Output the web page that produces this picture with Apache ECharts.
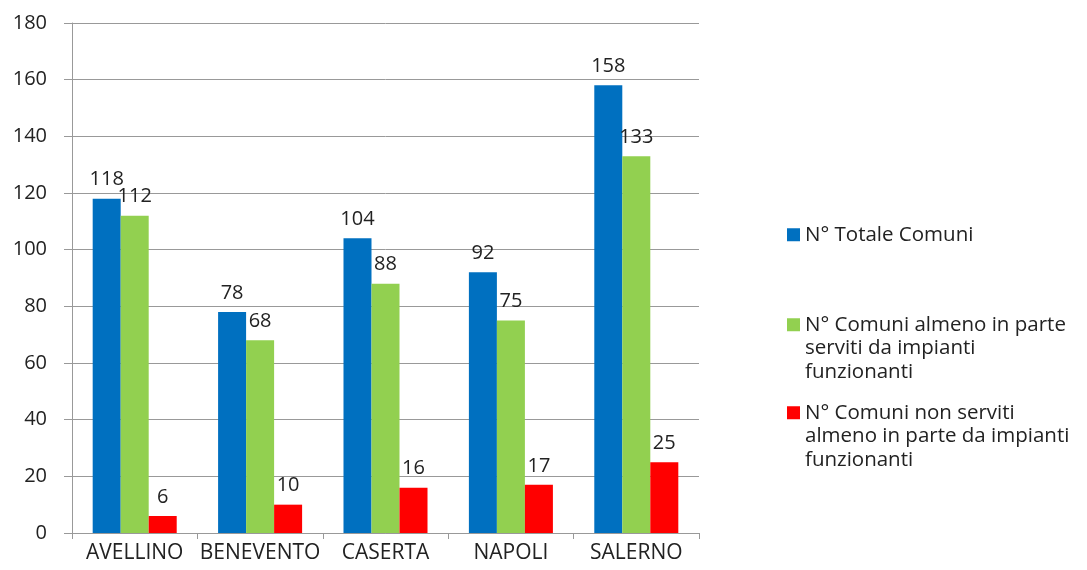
<!DOCTYPE html>
<html>
<head>
<meta charset="utf-8">
<script src="https://cdn.jsdelivr.net/npm/echarts@6/dist/echarts.min.js"></script>
<style>
  html, body { margin: 0; padding: 0; background: #fff; }
  #chart { width: 1087px; height: 570px; }
</style>
</head>
<body>
<div id="chart"></div>
<script>
var province = ['AVELLINO', 'BENEVENTO', 'CASERTA', 'NAPOLI', 'SALERNO'];
var totaleComuni = [118, 78, 104, 92, 158];
var comuniServiti = [112, 68, 88, 75, 133];
var comuniNonServiti = [6, 10, 16, 17, 25];

var nomeTotale = 'N° Totale Comuni';
var nomeServiti = 'N° Comuni almeno in parte\nserviti da impianti\nfunzionanti';
var nomeNonServiti = 'N° Comuni non serviti\nalmeno in parte da impianti\nfunzionanti';

var fontFam = '"Open Sans", "DejaVu Sans", sans-serif';
var labelStyle = {
    show: true,
    position: 'top',
    distance: 9,
    color: '#222',
    fontSize: 20,
    fontFamily: fontFam
};

// multi-line legend: two blank lines on top so the icon sits beside the first line
function legendBox(name, top, multi) {
    return {
        data: [name],
        left: 787,
        top: top,
        padding: 0,
        itemWidth: 13,
        itemHeight: 13,
        itemGap: 0,
        icon: 'rect',
        orient: 'vertical',
        selectedMode: false,
        formatter: function (n) {
            return multi ? '\u00a0\n\u00a0\n' + n : n;
        },
        textStyle: {
            fontSize: 20.5,
            fontFamily: fontFam,
            color: '#222',
            lineHeight: 23.5
        }
    };
}

var chart = echarts.init(document.getElementById('chart'));
chart.setOption({
    animation: false,
    backgroundColor: '#fff',
    grid: { left: 72, right: 388, top: 23, bottom: 37 },
    legend: [
        legendBox(nomeTotale, 223, false),
        legendBox(nomeServiti, 266, true),
        legendBox(nomeNonServiti, 354, true)
    ],
    xAxis: {
        type: 'category',
        data: province,
        axisLine: { lineStyle: { color: '#999', width: 1 } },
        axisTick: { show: true, length: 6, lineStyle: { color: '#999' } },
        axisLabel: { interval: 0, color: '#222', fontSize: 21, fontFamily: fontFam, margin: 10 }
    },
    yAxis: {
        type: 'value',
        min: 0,
        max: 180,
        interval: 20,
        axisLine: { show: true, lineStyle: { color: '#999', width: 1 } },
        axisTick: { show: true, length: 8, lineStyle: { color: '#999' } },
        axisLabel: { color: '#222', fontSize: 20, fontFamily: fontFam, margin: 25 },
        splitLine: { lineStyle: { color: '#999', width: 1 } }
    },
    series: [
        {
            name: nomeTotale,
            type: 'bar',
            data: totaleComuni,
            barGap: '0%',
            barCategoryGap: '33%',
            itemStyle: { color: '#0070c0' },
            label: labelStyle
        },
        {
            name: nomeServiti,
            type: 'bar',
            data: comuniServiti,
            itemStyle: { color: '#92d050' },
            label: labelStyle
        },
        {
            name: nomeNonServiti,
            type: 'bar',
            data: comuniNonServiti,
            itemStyle: { color: '#ff0000' },
            label: labelStyle
        }
    ]
});
</script>
</body>
</html>
